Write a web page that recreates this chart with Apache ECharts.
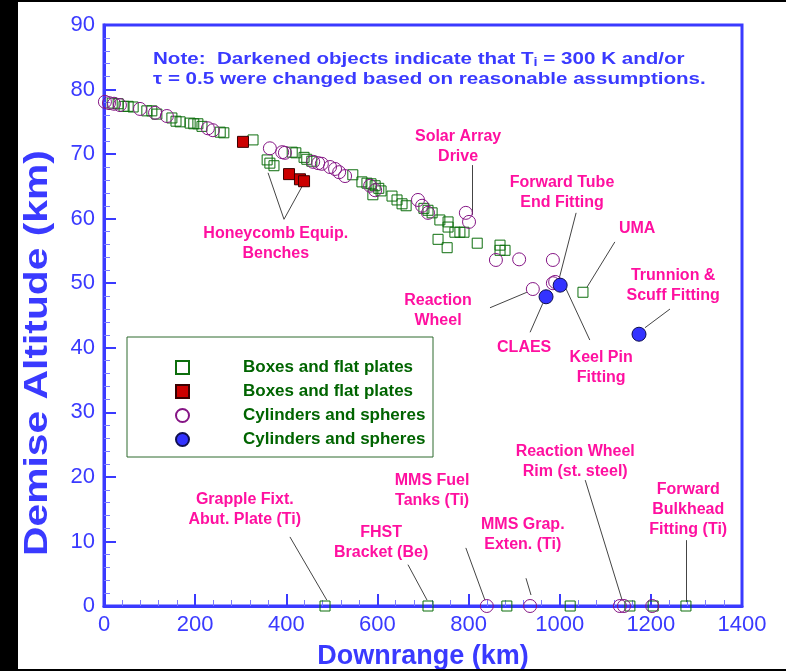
<!DOCTYPE html>
<html><head><meta charset="utf-8">
<script src="https://cdn.jsdelivr.net/npm/echarts@6/dist/echarts.min.js"></script>
<style>
html,body{margin:0;padding:0;background:#000;width:786px;height:671px;overflow:hidden}
#c{position:absolute;left:18px;top:2px;width:768px;height:667px;background:#fff}
</style>
</head><body><div id="c"></div>
<script>
// ---- data (downrange km, demise altitude km) ----
const boxesOpen = [[18,77.9],[31,77.8],[44,77.4],[53,77.4],[64,77.3],[94,76.7],[105,76.7],[116,76.2],[149,75.6],[158,75.1],[167,75.0],[189,74.8],[197,74.7],[206,74.7],[215,74.3],[255,73.4],[263,73.3],[327,72.2],[358,69.1],[364,68.6],[373,68.2],[413,70.3],[421,70.2],[439,69.5],[445,69.2],[456,68.9],[546,66.8],[566,65.7],[577,65.5],[586,65.4],[595,65.1],[603,64.7],[590,63.7],[608,64.3],[632,63.5],[643,62.9],[654,62.3],[663,62.0],[702,61.6],[711,61.3],[720,60.9],[737,59.8],[755,59.5],[755,58.7],[770,57.9],[781,57.9],[790,57.9],[733,56.8],[753,55.5],[819,56.2],[869,55.9],[869,55.1],[880,55.1],[1051,48.6],[485,0],[711,0],[884,0],[1023,0],[1154,0],[1205,0],[1277,0]];
const boxesFilled = [[305,71.9],[406,66.9],[430,66.1],[439,65.8]];
const cylOpen = [[2,78.1],[11,77.9],[22,77.8],[35,77.6],[79,77.0],[112,76.4],[138,75.9],[228,74.0],[239,73.7],[364,70.9],[391,70.3],[397,70.2],[459,68.8],[470,68.6],[478,68.5],[496,68.0],[507,67.7],[516,67.2],[529,66.6],[584,65.1],[595,64.4],[689,62.9],[698,62.0],[711,60.9],[794,60.9],[801,59.5],[860,53.6],[911,53.7],[985,53.6],[990,50.2],[985,50.0],[941,49.1],[840,0],[935,0],[1132,0],[1141,0],[1203,0]];
const cylFilled = [[1001,49.7],[970,47.9],[1174,42.1]];

const seriesNames = {boxOpen:'Boxes and flat plates', boxFilled:'Boxes and flat plates', cylOpen:'Cylinders and spheres', cylFilled:'Cylinders and spheres'};

// annotation labels: [text, km, alt]
const annotations = [
  ['Solar Array\nDrive', 777, 71.1],
  ['Forward Tube\nEnd Fitting', 1005, 64.0],
  ['UMA', 1170, 58.4],
  ['Trunnion &\nScuff Fitting', 1249, 49.6],
  ['Reaction\nWheel', 733, 45.7],
  ['CLAES', 922, 40.1],
  ['Keel Pin\nFitting', 1091, 37.0],
  ['Honeycomb Equip.\nBenches', 377, 56.2],
  ['Grapple Fixt.\nAbut. Plate (Ti)', 309, 15.0],
  ['FHST\nBracket (Be)', 608, 9.8],
  ['MMS Fuel\nTanks (Ti)', 720, 17.8],
  ['MMS Grap.\nExten. (Ti)', 919, 11.0],
  ['Reaction Wheel\nRim (st. steel)', 1034, 22.3],
  ['Forward\nBulkhead\nFitting (Ti)', 1282, 15.0]
];
// leader lines: [km1, alt1, km2, alt2]
const leaders = [
  [808,68.3,808,60.6],
  [1036,60.9,998,50.5],
  [1121,56.4,1060,49.4],
  [1242,46.0,1187,43.1],
  [847,46.2,928,48.6],
  [935,42.4,963,46.9],
  [1066,41.2,1014,49.1],
  [360,67.1,395,59.9],
  [437,65.3,395,59.9],
  [408,10.7,489,0.9],
  [667,6.4,709,0.9],
  [794,9.0,836,0.9],
  [926,4.3,937,1.7],
  [1056,19.5,1137,0.9],
  [1277,10.2,1277,0.6]
];
const xTicks = {min:0, max:1400, interval:200};
const yTicks = {min:0, max:90, interval:10};

const BLUE = '#3a3aff';
const PINK = '#ff10a0';
const FONT = '"Liberation Sans", Arial, sans-serif';

const chart = echarts.init(document.getElementById('c'), null, {renderer:'canvas'});
chart.setOption({
  animation:false,
  backgroundColor:'#fff',
  grid:{left:86, right:44, top:23, bottom:63, outerBoundsMode:'none', containLabel:false, show:true, borderColor:BLUE, borderWidth:3, backgroundColor:'transparent'},
  xAxis:{type:'value', min:xTicks.min, max:xTicks.max, interval:xTicks.interval,
    name:'Downrange (km)', nameLocation:'middle', nameGap:37,
    nameTextStyle:{color:BLUE, fontSize:27, fontWeight:'bold', fontFamily:FONT},
    axisLine:{lineStyle:{color:BLUE, width:3}},
    axisTick:{inside:true, length:12, lineStyle:{color:BLUE, width:2}},
    minorTick:{show:true, splitNumber:5, length:6, lineStyle:{color:'#7a7aff', width:1}},
    splitLine:{show:false},
    axisLabel:{color:BLUE, fontSize:22, fontFamily:FONT, margin:8, formatter: v => String(v)}
  },
  yAxis:{type:'value', min:yTicks.min, max:yTicks.max, interval:yTicks.interval,
    axisLine:{lineStyle:{color:BLUE, width:3}},
    axisTick:{inside:true, length:12, lineStyle:{color:BLUE, width:2}},
    minorTick:{show:true, splitNumber:5, length:6, lineStyle:{color:'#7a7aff', width:1}},
    splitLine:{show:false},
    axisLabel:{color:BLUE, fontSize:22, fontFamily:FONT, margin:9, formatter: v => String(v)}
  },
  legend:{left:152, top:352, orient:'vertical', itemWidth:13, itemHeight:13, itemGap:7,
    data:['boxOpen','boxFilled','cylOpen','cylFilled'],
    formatter: n => seriesNames[n],
    textStyle:{color:'#006400', fontSize:17, fontWeight:'bold', fontFamily:FONT, padding:[0,0,0,49]},
    selectedMode:false, z:10
  },
  graphic:[
    {type:'rect', shape:{x:109, y:335, width:306, height:120}, style:{fill:'#fff', stroke:'#2e6b2e', lineWidth:1}, z:5},
    {type:'text', x:135, y:47, scaleX:1.21, z:10, style:{
      text:'{a|Note:  Darkened objects indicate that T}{s|i}{a| = 300 K and/or}\n{a|τ = 0.5 were changed based on reasonable assumptions.}',
      rich:{a:{fontSize:17, fontWeight:'bold', fill:BLUE, fontFamily:FONT, lineHeight:20},
            s:{fontSize:12, fontWeight:'bold', fill:BLUE, fontFamily:FONT, lineHeight:20, verticalAlign:'bottom', padding:[8,0,0,0]}}
    }},
    {type:'text', x:20, y:351, rotation:Math.PI/2, scaleX:1.2, z:10, style:{
      text:'Demise Altitude (km)', fill:BLUE, font:'bold 34px "Liberation Sans", Arial, sans-serif',
      textAlign:'center', textVerticalAlign:'middle'
    }}
  ],
  series:[
    {type:'lines', coordinateSystem:'cartesian2d', silent:true, z:1,
      lineStyle:{color:'#444', width:1, opacity:1},
      data: leaders.map(l => ({coords:[[l[0],l[1]],[l[2],l[3]]]}))},
    {name:'boxOpen', type:'scatter', data:boxesOpen, symbol:'rect', symbolSize:10, z:3,
      itemStyle:{color:'rgba(255,255,255,0)', borderColor:'#0d6e0d', borderWidth:1, opacity:1}},
    {name:'boxFilled', type:'scatter', data:boxesFilled, symbol:'rect', symbolSize:11, z:3,
      itemStyle:{color:'#cc0000', borderColor:'#3a0000', borderWidth:1, opacity:1}},
    {name:'cylOpen', type:'scatter', data:cylOpen, symbol:'circle', symbolSize:13, z:3,
      itemStyle:{color:'rgba(255,255,255,0)', borderColor:'#851585', borderWidth:1, opacity:1}},
    {name:'cylFilled', type:'scatter', data:cylFilled, symbol:'circle', symbolSize:14, z:3,
      itemStyle:{color:'#3333ff', borderColor:'#101050', borderWidth:1, opacity:1}},
    {type:'scatter', silent:true, z:4, symbolSize:1, itemStyle:{color:'rgba(0,0,0,0)', opacity:1},
      data: annotations.map(a => ({name:a[0], value:[a[1],a[2]]})),
      label:{show:true, position:'inside', formatter: p => p.name, color:PINK, fontSize:16, fontWeight:'bold', fontFamily:FONT, lineHeight:20, align:'center', verticalAlign:'middle'}}
  ]
});
</script>
</body></html>
